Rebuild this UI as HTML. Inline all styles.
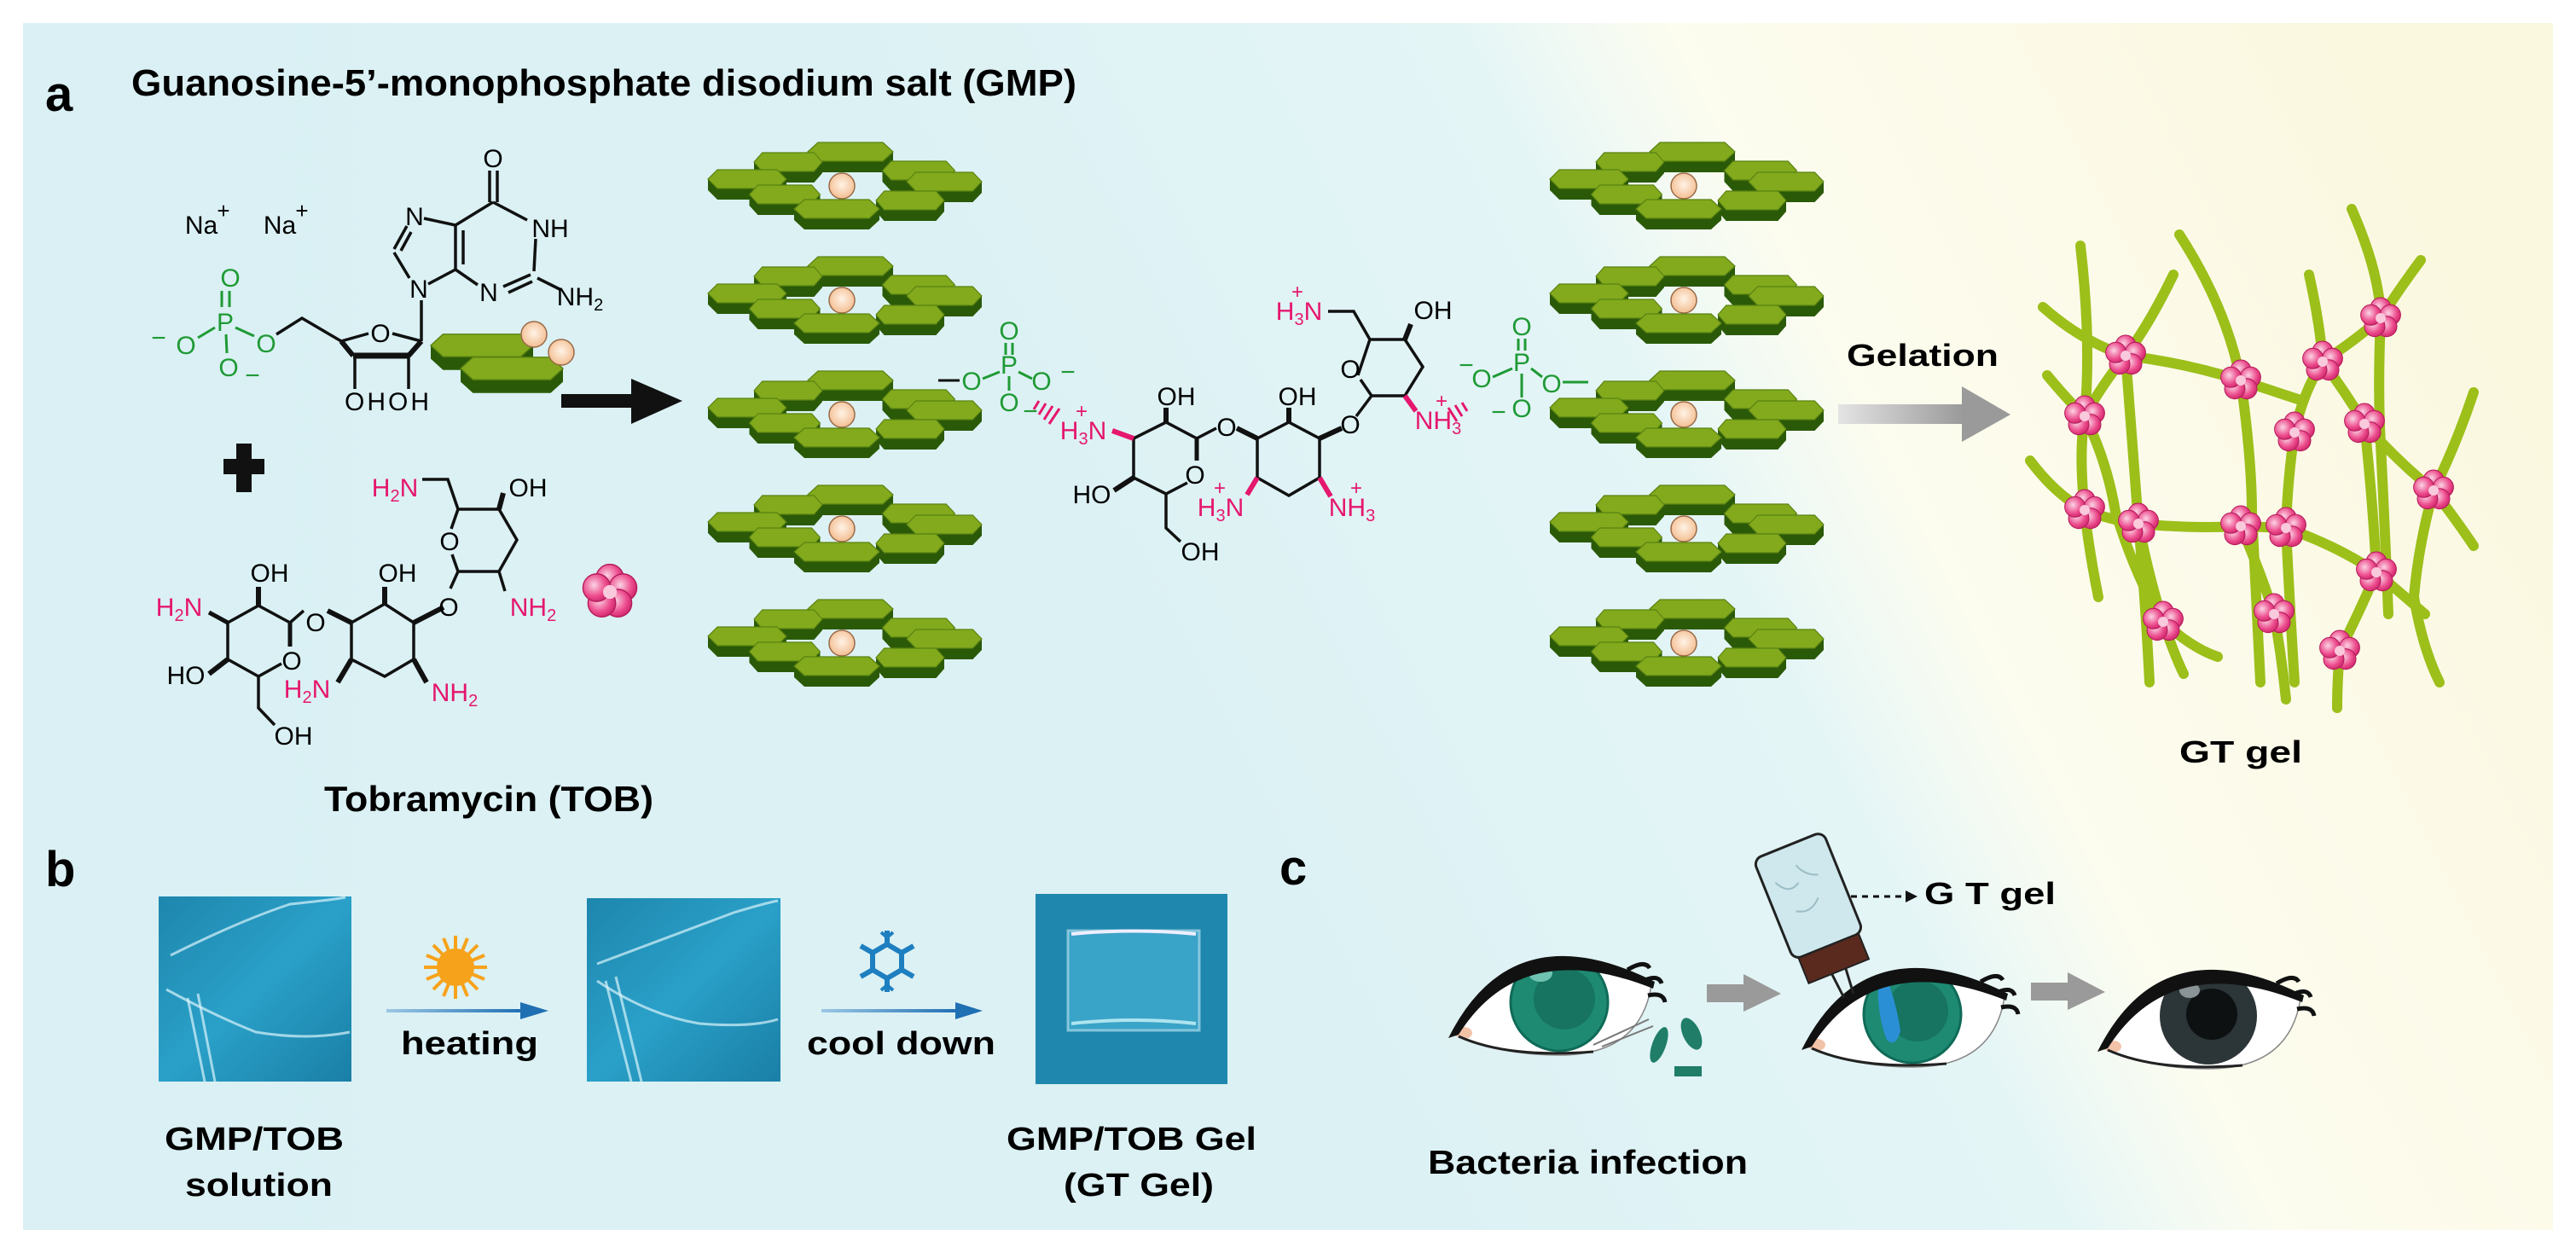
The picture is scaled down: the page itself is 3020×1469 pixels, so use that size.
<!DOCTYPE html>
<html><head><meta charset="utf-8"><style>
html,body{margin:0;padding:0;background:#fff;}
svg{display:block;}
text{font-family:"Liberation Sans",Arial,sans-serif;}
</style></head><body>
<svg xmlns="http://www.w3.org/2000/svg" width="3020" height="1469" viewBox="0 0 3020 1469">
<defs>
<linearGradient id="bg" gradientUnits="userSpaceOnUse" x1="1497" y1="1097" x2="2923" y2="373">
<stop offset="0" stop-color="#dcf1f4"/><stop offset="0.42" stop-color="#e4f5f6"/><stop offset="0.5" stop-color="#f3faf3"/><stop offset="0.56" stop-color="#fcfcef"/><stop offset="1" stop-color="#fbf8e0"/>
</linearGradient>
<linearGradient id="bgl" x1="0" y1="0" x2="1" y2="0"><stop offset="0" stop-color="#d8f0f3"/><stop offset="1" stop-color="#d8f0f3" stop-opacity="0"/></linearGradient>
<linearGradient id="garr" x1="0" y1="0" x2="1" y2="0"><stop offset="0" stop-color="#e4e4e4"/><stop offset="1" stop-color="#9a9a9a"/></linearGradient>
<linearGradient id="barr" x1="0" y1="0" x2="1" y2="0"><stop offset="0" stop-color="#9cc7e4"/><stop offset="1" stop-color="#1f6fb3"/></linearGradient>
<linearGradient id="photo" x1="0" y1="0" x2="1" y2="1"><stop offset="0" stop-color="#1e86ad"/><stop offset="0.5" stop-color="#2aa0c8"/><stop offset="1" stop-color="#1a7fa6"/></linearGradient>
<radialGradient id="pet" cx="0.4" cy="0.4" r="0.7"><stop offset="0" stop-color="#fbd3e4"/><stop offset="0.6" stop-color="#ec4b8c"/><stop offset="1" stop-color="#c41c62"/></radialGradient>
<radialGradient id="egg" cx="0.5" cy="0.45" r="0.6"><stop offset="0" stop-color="#fff3e6"/><stop offset="1" stop-color="#f2b98a"/></radialGradient>
<g id="hex">
<polygon points="-50,0 -50,13 -38,24 38,24 50,13 50,0 38,11 -38,11" fill="#2a5a08"/>
<polygon points="-50,0 -38,-11 38,-11 50,0 38,11 -38,11" fill="#82aa1c" stroke="#5a8212" stroke-width="1.2"/>
</g>
<g id="ring">
<use href="#hex" x="10" y="-40"/>
<use href="#hex" x="-63" y="-28" transform="translate(-63 -28) scale(0.8 1) translate(63 28)"/>
<use href="#hex" x="90" y="-18" transform="translate(90 -18) scale(0.85 1) translate(-90 18)"/>
<use href="#hex" x="-111" y="-8" transform="translate(-111 -8) scale(0.92 1) translate(111 8)"/>
<use href="#hex" x="120" y="-5" transform="translate(120 -5) scale(0.88 1) translate(-120 5)"/>
<circle cx="0" cy="0" r="15" fill="url(#egg)" stroke="#9a6a48" stroke-width="1.5"/>
<use href="#hex" x="-67" y="10" transform="translate(-67 10) scale(0.83 1) translate(67 -10)"/>
<use href="#hex" x="80" y="17" transform="translate(80 17) scale(0.8 1) translate(-80 -17)"/>
<use href="#hex" x="-6" y="27"/>
</g>
<g id="flower">
<circle cx="0" cy="-12" r="12" fill="url(#pet)" stroke="#b3195a" stroke-width="1"/>
<circle cx="11.4" cy="-3.7" r="12" fill="url(#pet)" stroke="#b3195a" stroke-width="1"/>
<circle cx="7" cy="9.7" r="12" fill="url(#pet)" stroke="#b3195a" stroke-width="1"/>
<circle cx="-7" cy="9.7" r="12" fill="url(#pet)" stroke="#b3195a" stroke-width="1"/>
<circle cx="-11.4" cy="-3.7" r="12" fill="url(#pet)" stroke="#b3195a" stroke-width="1"/>
<circle cx="0" cy="0" r="6" fill="#f9c9dc"/>
</g>
<clipPath id="scl"><path d="M-125,37 Q-40,-95 108,-20 Q95,62 0,62 Q-70,62 -125,37 Z"/></clipPath>
<g id="eyebase">
<path d="M-125,37 Q-40,-95 108,-20 Q95,62 0,62 Q-70,62 -125,37 Z" fill="#fff" stroke="#888" stroke-width="1.5"/>
<ellipse cx="-112" cy="36" rx="10" ry="7" fill="#f3c3a8"/>
</g>
<g id="lid">
<path d="M-130,42 Q-55,-108 112,-24 L110,-16 Q-45,-78 -118,38 Z" fill="#111"/>
<path d="M80,-38 q20,-12 26,-2 M96,-24 q20,-10 24,2 M104,-8 q18,-4 20,8" stroke="#111" stroke-width="5" fill="none"/>
<path d="M-118,40 Q-60,66 40,58" stroke="#222" stroke-width="3" fill="none"/>
</g>
</defs>

<rect x="0" y="0" width="3020" height="1469" fill="#fff"/>
<rect x="27" y="27" width="2966" height="1415" fill="url(#bg)"/>
<rect x="27" y="27" width="900" height="1415" fill="url(#bgl)" opacity="0.6"/>

<!-- Panel a labels -->
<text x="53" y="130" font-size="58" font-weight="bold">a</text>
<text x="154" y="112" font-size="44" font-weight="bold" textLength="1108" lengthAdjust="spacingAndGlyphs">Guanosine-5’-monophosphate disodium salt (GMP)</text>

<!-- GMP structure -->
<g font-size="30" text-anchor="middle">
<text x="236" y="274">Na</text><text x="262" y="256" font-size="26">+</text>
<text x="328" y="274">Na</text><text x="354" y="256" font-size="26">+</text>
<g fill="#1f9a35">
<text x="270" y="336">O</text>
<text x="264" y="388">P</text>
<text x="218" y="415">O</text><text x="186" y="406">−</text>
<text x="312" y="413">O</text>
<text x="268" y="441">O</text><text x="296" y="450">−</text>
</g>
<g stroke="#1f9a35" stroke-width="3">
<line x1="260" y1="341" x2="260" y2="360"/><line x1="269" y1="341" x2="269" y2="360"/>
<line x1="252" y1="384" x2="232" y2="396"/><line x1="276" y1="384" x2="298" y2="394"/>
<line x1="265" y1="392" x2="266" y2="414"/>
</g>
<g stroke="#111" stroke-width="3.5" fill="none">
<polyline points="324,392 354,373 400,400"/>
<line x1="400" y1="400" x2="432" y2="391"/><line x1="460" y1="391" x2="494" y2="400"/>
<line x1="494" y1="400" x2="479" y2="417" stroke-width="6"/>
<line x1="479" y1="417" x2="414" y2="417" stroke-width="7"/>
<line x1="414" y1="417" x2="400" y2="400" stroke-width="6"/>
<line x1="416" y1="417" x2="416" y2="456"/><line x1="479" y1="417" x2="479" y2="456"/>
<line x1="494" y1="400" x2="494" y2="352"/>
<line x1="480" y1="326" x2="462" y2="296"/>
<line x1="462" y1="292" x2="477" y2="265"/><line x1="470" y1="294" x2="482" y2="272"/>
<line x1="497" y1="256" x2="534" y2="264"/>
<line x1="534" y1="264" x2="534" y2="316"/><line x1="543" y1="270" x2="543" y2="310"/>
<line x1="534" y1="316" x2="502" y2="333"/>
<line x1="534" y1="264" x2="578" y2="237"/>
<line x1="574" y1="237" x2="574" y2="200"/><line x1="583" y1="237" x2="583" y2="200"/>
<line x1="578" y1="237" x2="618" y2="258"/>
<line x1="628" y1="280" x2="626" y2="318"/>
<line x1="622" y1="322" x2="590" y2="336"/><line x1="624" y1="330" x2="596" y2="343"/>
<line x1="560" y1="334" x2="534" y2="316"/>
<line x1="630" y1="326" x2="658" y2="340"/>
</g>
<text x="446" y="401">O</text>
<text x="455" y="481" letter-spacing="3">OHOH</text>
<text x="491" y="349">N</text>
<text x="486" y="264">N</text>
<text x="578" y="196">O</text>
<text x="645" y="278">NH</text>
<text x="573" y="353">N</text>
<text x="680" y="358">NH<tspan font-size="20" dy="6">2</tspan></text>
</g>
<!-- small hexes and eggs -->
<use href="#hex" transform="translate(565 405) scale(1.2)"/>
<use href="#hex" transform="translate(600 432) scale(1.2)"/>
<circle cx="626" cy="392" r="15" fill="url(#egg)" stroke="#9a6a48" stroke-width="1.5"/>
<circle cx="658" cy="413" r="15" fill="url(#egg)" stroke="#9a6a48" stroke-width="1.5"/>
<!-- black arrow -->
<rect x="658" y="462" width="90" height="16" fill="#111"/>
<polygon points="740,444 800,470 740,497" fill="#111"/>
<!-- plus -->
<rect x="262" y="538" width="48" height="18" fill="#111"/>
<rect x="277" y="520" width="18" height="57" fill="#111"/>

<!-- Tobramycin (lower) -->
<g font-size="30" text-anchor="middle">
<g stroke="#111" stroke-width="3.5" fill="none">
<polyline points="495,562 525,562 537,597"/>
<polyline points="537,597 585,597 606,633 585,670 537,670 530,650"/>
<line x1="537" y1="597" x2="529" y2="620"/>
<line x1="585" y1="597" x2="590" y2="578" stroke-width="6"/>
<line x1="585" y1="670" x2="592" y2="693"/>
<line x1="537" y1="670" x2="528" y2="690"/>
<line x1="520" y1="712" x2="485" y2="730" stroke-width="6"/>
<polyline points="485,730 451,708 412,730 412,773 451,793 485,773 485,730"/>
<line x1="451" y1="708" x2="451" y2="688" stroke-width="6"/>
<line x1="485" y1="773" x2="500" y2="800" stroke-width="6"/>
<line x1="412" y1="773" x2="396" y2="800" stroke-width="6"/>
<line x1="412" y1="730" x2="384" y2="716" stroke-width="6"/>
<line x1="356" y1="716" x2="340" y2="730"/>
<polyline points="340,730 303,710 267,730 267,773 303,793 330,778"/>
<line x1="340" y1="730" x2="340" y2="758" stroke-width="5"/>
<line x1="303" y1="710" x2="303" y2="688" stroke-width="6"/>
<line x1="267" y1="730" x2="245" y2="718" stroke-width="5"/>
<line x1="267" y1="773" x2="245" y2="790" stroke-width="6"/>
<polyline points="303,793 303,830 322,850"/>
</g>
<text x="527" y="645">O</text>
<text x="370" y="740">O</text>
<text x="526" y="722">O</text>
<text x="342" y="785">O</text>
<text x="619" y="582">OH</text>
<text x="466" y="682">OH</text>
<text x="316" y="682">OH</text>
<text x="218" y="802">HO</text>
<text x="344" y="873">OH</text>
<g fill="#e5176e">
<text x="463" y="582">H<tspan font-size="20" dy="6">2</tspan><tspan dy="-6">N</tspan></text>
<text x="625" y="722">NH<tspan font-size="20" dy="6">2</tspan></text>
<text x="533" y="822">NH<tspan font-size="20" dy="6">2</tspan></text>
<text x="360" y="818">H<tspan font-size="20" dy="6">2</tspan><tspan dy="-6">N</tspan></text>
<text x="210" y="722">H<tspan font-size="20" dy="6">2</tspan><tspan dy="-6">N</tspan></text>
</g>
</g>
<use href="#flower" transform="translate(715 694) scale(1.35)"/>
<text x="380" y="951" font-size="42" font-weight="bold" textLength="386" lengthAdjust="spacingAndGlyphs">Tobramycin (TOB)</text>

<!-- stacks -->
<use href="#ring" transform="translate(987 218)"/>
<use href="#ring" transform="translate(987 352)"/>
<use href="#ring" transform="translate(987 486)"/>
<use href="#ring" transform="translate(987 620)"/>
<use href="#ring" transform="translate(987 754)"/>
<use href="#ring" transform="translate(1974 218)"/>
<use href="#ring" transform="translate(1974 352)"/>
<use href="#ring" transform="translate(1974 486)"/>
<use href="#ring" transform="translate(1974 620)"/>
<use href="#ring" transform="translate(1974 754)"/>

<!-- middle molecule -->
<g font-size="30" text-anchor="middle">
<g fill="#1f9a35">
<text x="1183" y="398">O</text>
<text x="1183" y="438">P</text>
<text x="1139" y="457">O</text>
<text x="1221" y="457">O</text><text x="1252" y="446">−</text>
<text x="1183" y="482">O</text><text x="1208" y="492">−</text>
<text x="1784" y="393">O</text>
<text x="1784" y="435">P</text>
<text x="1737" y="454">O</text><text x="1719" y="438">−</text>
<text x="1819" y="460">O</text>
<text x="1784" y="489">O</text><text x="1757" y="493">−</text>
</g>
<g stroke="#1f9a35" stroke-width="3">
<line x1="1179" y1="402" x2="1179" y2="416"/><line x1="1187" y1="402" x2="1187" y2="416"/>
<line x1="1172" y1="436" x2="1152" y2="444"/><line x1="1194" y1="436" x2="1210" y2="444"/>
<line x1="1183" y1="441" x2="1183" y2="458"/>
<line x1="1780" y1="397" x2="1780" y2="411"/><line x1="1788" y1="397" x2="1788" y2="411"/>
<line x1="1773" y1="432" x2="1750" y2="442"/><line x1="1795" y1="432" x2="1808" y2="442"/>
<line x1="1784" y1="438" x2="1784" y2="466"/>
<line x1="1832" y1="448" x2="1862" y2="448"/>
</g>
<line x1="1100" y1="446" x2="1125" y2="446" stroke="#111" stroke-width="3"/>
<g stroke="#e5176e" stroke-width="3">
<line x1="1218" y1="470" x2="1212" y2="480"/><line x1="1226" y1="473" x2="1218" y2="486"/><line x1="1234" y1="476" x2="1224" y2="492"/><line x1="1242" y1="479" x2="1230" y2="497"/>
<line x1="1714" y1="472" x2="1720" y2="482"/><line x1="1706" y1="475" x2="1714" y2="488"/><line x1="1698" y1="478" x2="1708" y2="494"/>
</g>
<g stroke="#111" stroke-width="3.5" fill="none">
<polyline points="1403,514 1367,495 1329,514 1329,560 1367,579 1392,566"/>
<line x1="1403" y1="514" x2="1403" y2="540" stroke-width="5"/>
<line x1="1367" y1="495" x2="1367" y2="478" stroke-width="6"/>
<line x1="1329" y1="514" x2="1304" y2="505" stroke="#e5176e" stroke-width="6"/>
<line x1="1329" y1="560" x2="1306" y2="575" stroke-width="6"/>
<polyline points="1367,579 1367,619 1384,635"/>
<line x1="1403" y1="514" x2="1426" y2="502"/>
<line x1="1450" y1="502" x2="1474" y2="514" stroke-width="6"/>
<polyline points="1474,514 1511,495 1547,514 1547,560 1511,581 1474,560 1474,514"/>
<line x1="1511" y1="495" x2="1511" y2="478" stroke-width="6"/>
<line x1="1474" y1="560" x2="1462" y2="580" stroke="#e5176e" stroke-width="6"/>
<line x1="1547" y1="560" x2="1560" y2="582" stroke="#e5176e" stroke-width="6"/>
<line x1="1547" y1="514" x2="1573" y2="502" stroke-width="6"/>
<line x1="1590" y1="488" x2="1608" y2="464"/>
<polyline points="1592,440 1606,398 1647,398 1668,430 1647,464 1608,464 1595,445"/>
<polyline points="1557,365 1587,365 1606,398"/>
<line x1="1647" y1="398" x2="1654" y2="380" stroke-width="6"/>
<line x1="1647" y1="464" x2="1660" y2="482" stroke="#e5176e" stroke-width="6"/>
</g>
<text x="1401" y="567">O</text>
<text x="1438" y="511">O</text>
<text x="1583" y="508">O</text>
<text x="1583" y="443">O</text>
<text x="1379" y="475">OH</text>
<text x="1521" y="475">OH</text>
<text x="1680" y="374">OH</text>
<text x="1280" y="590">HO</text>
<text x="1407" y="657">OH</text>
<g fill="#e5176e">
<text x="1270" y="515">H<tspan font-size="20" dy="6">3</tspan><tspan dy="-6">N</tspan></text><text x="1268" y="490" font-size="24">+</text>
<text x="1431" y="605">H<tspan font-size="20" dy="6">3</tspan><tspan dy="-6">N</tspan></text><text x="1430" y="580" font-size="24">+</text>
<text x="1585" y="605">NH<tspan font-size="20" dy="6">3</tspan></text><text x="1590" y="580" font-size="24">+</text>
<text x="1523" y="375">H<tspan font-size="20" dy="6">3</tspan><tspan dy="-6">N</tspan></text><text x="1521" y="350" font-size="24">+</text>
<text x="1686" y="503">NH<tspan font-size="20" dy="6">3</tspan></text><text x="1690" y="478" font-size="24">+</text>
</g>
</g>

<!-- Gelation -->
<text x="2165" y="429" font-size="36" font-weight="bold" textLength="178" lengthAdjust="spacingAndGlyphs">Gelation</text>
<rect x="2155" y="474" width="147" height="23" fill="url(#garr)"/>
<polygon points="2300,453 2357,486 2300,518" fill="#9a9a9a"/>

<!-- network -->
<g stroke="#9cbf1a" stroke-width="12" fill="none" stroke-linecap="round">
<path d="M2439,288 Q2452,400 2444,488 Q2432,560 2460,700"/>
<path d="M2555,275 Q2610,360 2627,446 Q2640,540 2640,600 Q2645,700 2650,800"/>
<path d="M2757,245 Q2790,320 2791,373 Q2788,440 2790,500 Q2796,620 2800,720"/>
<path d="M2548,322 Q2520,380 2492,417 Q2465,450 2444,488"/>
<path d="M2707,322 Q2720,380 2723,424 Q2700,460 2690,507 Q2682,560 2680,619 Q2685,720 2690,800"/>
<path d="M2838,305 Q2812,340 2791,373 Q2760,400 2723,424"/>
<path d="M2395,360 Q2440,400 2492,417 Q2560,425 2627,446 Q2670,460 2700,470"/>
<path d="M2900,460 Q2880,520 2853,575 Q2835,640 2830,700 Q2840,760 2860,800"/>
<path d="M2380,540 Q2410,580 2444,598 Q2475,610 2507,614 Q2570,620 2627,617 Q2655,618 2680,619"/>
<path d="M2400,440 Q2425,470 2444,488 Q2470,540 2480,600 Q2505,680 2536,729 Q2550,770 2560,790"/>
<path d="M2507,614 Q2520,680 2536,729 Q2570,760 2600,770"/>
<path d="M2723,424 Q2750,460 2772,497 Q2810,540 2853,575 Q2880,610 2900,640"/>
<path d="M2680,619 Q2740,640 2786,671 Q2820,700 2843,720"/>
<path d="M2627,617 Q2650,670 2666,720 Q2675,770 2680,820"/>
<path d="M2492,417 Q2500,520 2507,614 Q2515,700 2520,800"/>
<path d="M2772,497 Q2782,590 2786,671 Q2765,720 2743,763 Q2740,800 2740,830"/>
</g>
<g>
<use href="#flower" transform="translate(2492 417)"/>
<use href="#flower" transform="translate(2627 446)"/>
<use href="#flower" transform="translate(2723 424)"/>
<use href="#flower" transform="translate(2791 373)"/>
<use href="#flower" transform="translate(2444 488)"/>
<use href="#flower" transform="translate(2690 507)"/>
<use href="#flower" transform="translate(2772 497)"/>
<use href="#flower" transform="translate(2853 575)"/>
<use href="#flower" transform="translate(2444 598)"/>
<use href="#flower" transform="translate(2507 614)"/>
<use href="#flower" transform="translate(2627 617)"/>
<use href="#flower" transform="translate(2680 619)"/>
<use href="#flower" transform="translate(2786 671)"/>
<use href="#flower" transform="translate(2536 729)"/>
<use href="#flower" transform="translate(2666 720)"/>
<use href="#flower" transform="translate(2743 763)"/>
</g>
<text x="2555" y="894" font-size="36" font-weight="bold" textLength="144" lengthAdjust="spacingAndGlyphs">GT gel</text>

<!-- Panel b -->
<text x="53" y="1039" font-size="58" font-weight="bold">b</text>
<rect x="186" y="1051" width="226" height="217" fill="url(#photo)"/>
<g stroke="#d8f4fb" stroke-opacity="0.7" fill="none" stroke-width="3">
<path d="M200,1120 Q280,1080 340,1060 Q390,1055 405,1052"/>
<path d="M195,1160 Q250,1190 300,1210 Q360,1220 410,1210"/>
<path d="M220,1170 L240,1268 M232,1165 L252,1268"/>
</g>
<rect x="688" y="1053" width="227" height="215" fill="url(#photo)"/>
<g stroke="#d8f4fb" stroke-opacity="0.7" fill="none" stroke-width="3">
<path d="M700,1130 Q780,1100 860,1070 Q900,1058 912,1056"/>
<path d="M700,1150 Q760,1190 820,1200 Q880,1205 912,1195"/>
<path d="M710,1150 L740,1268 M722,1145 L752,1268"/>
</g>
<rect x="1214" y="1048" width="225" height="223" fill="#1f87ad"/>
<rect x="1252" y="1091" width="154" height="117" fill="#3aa3c8" stroke="#bfe6f2" stroke-opacity="0.6" stroke-width="3"/>
<path d="M1256,1095 Q1330,1088 1402,1095" stroke="#eef" stroke-width="4" fill="none"/>
<path d="M1256,1200 Q1330,1192 1402,1200" stroke="#dff" stroke-opacity="0.7" stroke-width="4" fill="none"/>
<!-- sun -->
<g transform="translate(534 1134)" stroke="#f7a21b" stroke-width="4">
<line x1="0" y1="-37" x2="0" y2="37"/><line x1="-37" y1="0" x2="37" y2="0"/>
<line x1="-26" y1="-26" x2="26" y2="26"/><line x1="-26" y1="26" x2="26" y2="-26"/>
<line x1="-14" y1="-34" x2="14" y2="34"/><line x1="14" y1="-34" x2="-14" y2="34"/>
<line x1="-34" y1="-14" x2="34" y2="14"/><line x1="-34" y1="14" x2="34" y2="-14"/>
<circle r="22" fill="#f7a21b" stroke="none"/>
</g>
<!-- snowflake -->
<g transform="translate(1040 1127)" stroke="#1e7fc0" stroke-width="6" fill="none">
<polygon points="0,-20 17,-10 17,10 0,20 -17,10 -17,-10"/>
<line x1="0" y1="-20" x2="0" y2="-36"/><line x1="0" y1="20" x2="0" y2="36"/>
<line x1="17" y1="-10" x2="31" y2="-18"/><line x1="-17" y1="-10" x2="-31" y2="-18"/>
<line x1="17" y1="10" x2="31" y2="18"/><line x1="-17" y1="10" x2="-31" y2="18"/>
<path d="M-7,-34 L0,-28 L7,-34 M-7,34 L0,28 L7,34" stroke-width="4"/>
</g>
<rect x="453" y="1183" width="160" height="4" fill="url(#barr)"/>
<polygon points="610,1175 643,1185 610,1195" fill="#1f6fb3"/>
<rect x="963" y="1183" width="160" height="4" fill="url(#barr)"/>
<polygon points="1120,1175 1152,1185 1120,1195" fill="#1f6fb3"/>
<g font-size="38" font-weight="bold">
<text x="470" y="1236" textLength="161" lengthAdjust="spacingAndGlyphs">heating</text>
<text x="946" y="1236" textLength="221" lengthAdjust="spacingAndGlyphs">cool down</text>
<text x="193" y="1348" textLength="210" lengthAdjust="spacingAndGlyphs">GMP/TOB</text>
<text x="217" y="1402" textLength="173" lengthAdjust="spacingAndGlyphs">solution</text>
<text x="1180" y="1348" textLength="293" lengthAdjust="spacingAndGlyphs">GMP/TOB Gel</text>
<text x="1247" y="1402" textLength="176" lengthAdjust="spacingAndGlyphs">(GT Gel)</text>
</g>

<!-- Panel c -->
<text x="1500" y="1037" font-size="58" font-weight="bold">c</text>
<!-- eye 1 -->
<g transform="translate(1828 1175)">
<use href="#eyebase"/>
<g clip-path="url(#scl)">
<circle r="57" fill="#1e8a72" stroke="#0f6b58" stroke-width="3"/>
<circle cx="6" cy="-4" r="36" fill="#167461"/>
<ellipse cx="-22" cy="-34" rx="14" ry="10" fill="#6fc2b0"/>
</g>
<use href="#lid"/>
<path d="M40,50 L105,20 M50,52 L110,28" stroke="#777" stroke-width="2"/>
</g>
<g fill="#1f7d68">
<ellipse cx="1945" cy="1225" rx="8" ry="22" transform="rotate(20 1945 1225)"/>
<ellipse cx="1983" cy="1212" rx="10" ry="20" transform="rotate(-25 1983 1212)"/>
<rect x="1963" y="1250" width="32" height="12"/>
</g>
<rect x="2001" y="1154" width="48" height="21" fill="#9a9a9a"/>
<polygon points="2044,1142 2088,1165 2044,1186" fill="#9a9a9a"/>
<!-- eye 2 -->
<g transform="translate(2242 1189)">
<use href="#eyebase"/>
<g clip-path="url(#scl)">
<circle r="57" fill="#1e8a72" stroke="#0f6b58" stroke-width="3"/>
<circle cx="6" cy="-4" r="36" fill="#167461"/>
<path d="M-40,-40 Q-42,0 -30,30 Q-20,40 -14,20 Q-18,-10 -30,-42 Z" fill="#2b8fd6"/>
</g>
<use href="#lid"/>
</g>
<!-- bottle -->
<g transform="translate(2128 1070) rotate(-22)">
<line x1="-10" y1="60" x2="-6" y2="105" stroke="#222" stroke-width="3"/>
<line x1="10" y1="60" x2="6" y2="105" stroke="#222" stroke-width="3"/>
<rect x="-44" y="-85" width="88" height="127" rx="10" fill="#cfe8ee" stroke="#222" stroke-width="3"/>
<path d="M-30,-50 q10,20 25,10 M-20,-10 q15,10 30,-5 M0,-60 q5,15 20,20" stroke="#9cbcc4" stroke-width="2" fill="none"/>
<rect x="-38" y="42" width="76" height="32" fill="#5a2a1e" stroke="#222" stroke-width="2"/>
</g>
<line x1="2170" y1="1051" x2="2236" y2="1051" stroke="#111" stroke-width="3" stroke-dasharray="7,6"/>
<polygon points="2234,1044 2248,1051 2234,1058" fill="#111"/>
<text x="2256" y="1060" font-size="36" font-weight="bold" textLength="154" lengthAdjust="spacingAndGlyphs">G T gel</text>
<rect x="2381" y="1152" width="48" height="21" fill="#9a9a9a"/>
<polygon points="2424,1140 2468,1163 2424,1184" fill="#9a9a9a"/>
<!-- eye 3 -->
<g transform="translate(2589 1191)">
<use href="#eyebase"/>
<g clip-path="url(#scl)">
<circle r="57" fill="#2c3538"/>
<circle cx="4" cy="-2" r="30" fill="#0d1112"/>
<ellipse cx="-22" cy="-30" rx="12" ry="9" fill="#8a9497"/>
</g>
<use href="#lid"/>
</g>
<text x="1674" y="1376" font-size="39" font-weight="bold" textLength="375" lengthAdjust="spacingAndGlyphs">Bacteria infection</text>
</svg>
</body></html>
